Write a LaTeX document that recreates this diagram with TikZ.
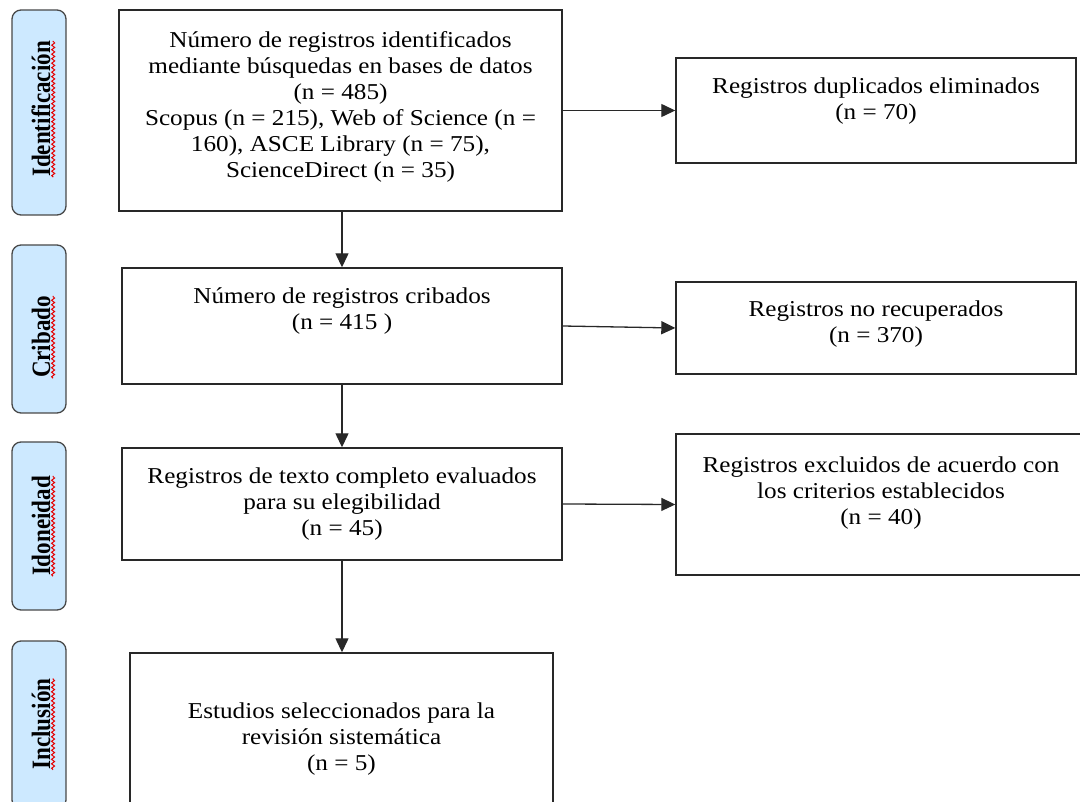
\documentclass[tikz,border=0pt]{standalone}
\usepackage{fontspec}
\setmainfont{Liberation Serif}[FakeStretch=1.11]
\newfontfamily\phasefont{Liberation Serif}[FakeStretch=0.87]
\usetikzlibrary{arrows.meta,decorations.pathmorphing}
\definecolor{phasefill}{RGB}{205,233,255}
\definecolor{edge}{RGB}{40,40,40}
\newcommand{\lift}[1]{\rule[-#1]{0pt}{#1}}

\begin{document}
\begin{tikzpicture}[
    x=1pt, y=-1pt,
    every node/.style={font=\fontsize{22.7}{26}\selectfont},
    phase/.style={draw=edge!85, fill=phasefill, line width=1.3pt, rounded corners=9pt, minimum width=54pt, inner sep=0pt},
    phasetxt/.style={rotate=90, inner sep=0pt, font=\phasefont\bfseries\fontsize{26.5}{30}\selectfont},
    stage/.style={draw=edge, line width=1.4pt, align=center, inner sep=0pt},
    flow/.style={draw=edge, line width=1.3pt, -{Triangle[length=14pt, width=13pt]}},
    spell/.style={red!90!black, line width=1pt, decorate, decoration={snake, amplitude=1.5pt, segment length=4.5pt}},
]
\useasboundingbox (0,0) rectangle (1080,802);

% Phase labels (left column)
\node[phase, minimum height=205pt] (p-ident) at (39, 112.5) {};
\node[phase, minimum height=168pt] (p-crib)  at (39, 329) {};
\node[phase, minimum height=168pt] (p-idon)  at (39, 526) {};
\node[phase, minimum height=168pt] (p-incl)  at (39, 725) {};

\node[phasetxt] (t-ident) at (41, 109) {Identificación};
\node[phasetxt] (t-crib)  at (41, 337) {Cribado};
\node[phasetxt] (t-idon)  at (41, 526) {Idoneidad};
\node[phasetxt] (t-incl)  at (41, 724) {Inclusión};

% spell-check marks under the labels
\draw[spell] ([xshift=3pt]t-ident.base west) -- ([xshift=3pt]t-ident.base east);
\draw[spell] ([xshift=3pt]t-crib.base west) -- ([xshift=3pt]t-crib.base east);
\draw[spell] ([xshift=3pt]t-idon.base west) -- ([xshift=3pt]t-idon.base east);
\draw[spell] ([xshift=3pt]t-incl.base west) -- ([xshift=3pt]t-incl.base east);

% Row 1: Identificación
\node[stage, minimum width=443pt, minimum height=201pt] (ident) at (340.5, 110.5) {%
    Número de registros identificados\\
    mediante búsquedas en bases de datos\\
    (n = 485)\\
    Scopus (n = 215), Web of Science (n =\\
    160), ASCE Library (n = 75),\\
    ScienceDirect (n = 35)\lift{12pt}};
\node[stage, minimum width=400pt, minimum height=105pt] (dup) at (876, 110.5) {%
    Registros duplicados eliminados\\
    (n = 70)\lift{23pt}};

% Row 2: Cribado
\node[stage, minimum width=440pt, minimum height=116pt] (screen) at (342, 326) {%
    Número de registros cribados\\
    (n = 415 )\lift{35pt}};
\node[stage, minimum width=400pt, minimum height=92pt] (notret) at (876, 328) {%
    Registros no recuperados\\
    (n = 370)\lift{13pt}};

% Row 3: Idoneidad
\node[stage, minimum width=440pt, minimum height=112pt] (elig) at (342, 504) {%
    Registros de texto completo evaluados\\
    para su elegibilidad\\
    (n = 45)};
\node[stage, minimum width=410pt, minimum height=141pt] (excl) at (881, 504.5) {%
    Registros excluidos de acuerdo con\\
    los criterios establecidos\\
    (n = 40)\lift{27pt}};

% Row 4: Inclusión
\node[stage, minimum width=423pt, minimum height=172pt] (incl) at (341.5, 739) {%
    Estudios seleccionados para la\\
    revisión sistemática\\
    (n = 5)};

% Arrows
\draw[flow] (ident.south -| screen.north) -- (screen.north);
\draw[flow] (screen.south) -- (elig.north);
\draw[flow] (elig.south) -- (elig.south |- incl.north);
\draw[flow] (ident.east) -- (dup.west);
\draw[flow] (screen.east) -- (notret.west);
\draw[flow] (elig.east) -- (excl.west);

\end{tikzpicture}
\end{document}
